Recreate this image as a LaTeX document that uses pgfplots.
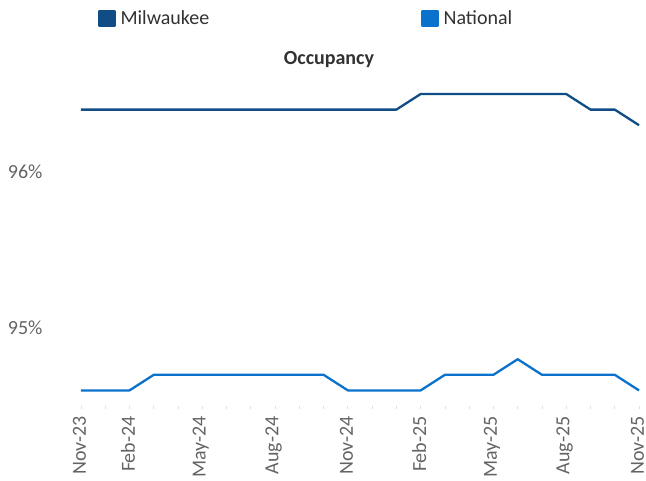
\documentclass[border=0pt]{standalone}
\usepackage{pgfplots}
\pgfplotsset{compat=1.18}
\usepackage{fontspec}
\setmainfont{Carlito}
\definecolor{milw}{RGB}{16,76,134}
\definecolor{natl}{RGB}{10,114,204}
\definecolor{ticktext}{RGB}{100,100,100}
\definecolor{darktext}{RGB}{50,50,50}
\begin{document}
\begin{tikzpicture}
\begin{axis}[
  scale only axis,
  width=558pt, height=327.6pt,
  xmin=0, xmax=23, ymin=94.5, ymax=96.6,
  axis line style={draw=none},
  xtick={0,...,23},
  xticklabels={Nov-23,,Feb-24,,,May-24,,,Aug-24,,,Nov-24,,,Feb-25,,,May-25,,,Aug-25,,,Nov-25},
  xtick pos=bottom, tick align=outside,
  major tick length=3pt,
  x tick style={draw=gray!25, line width=0.8pt},
  y tick style={draw=none},
  ytick={95,96}, yticklabels={95\%,96\%},
  ticklabel style={font=\fontsize{20}{24}\selectfont, text=ticktext},
  xticklabel style={rotate=90, anchor=east, inner sep=0pt, xshift=-7pt, yshift=1.5pt},
  yticklabel style={anchor=east, xshift=-32pt},
  title={\textbf{Occupancy}},
  title style={at={(0.4444,1.0226)}, anchor=base, yshift=0pt, font=\fontsize{20}{24}\selectfont, text=darktext},
  legend columns=2,
  legend style={draw=none, fill=none, at={(0.0305,1.214)}, anchor=north west, inner sep=0pt,
    font=\fontsize{20}{24}\selectfont, text=darktext,
    /tikz/every even column/.append style={column sep=210pt}},
  legend image code/.code={\fill[#1] (0pt,-7.5pt) rectangle (15pt,7.5pt); \path (18pt,0pt);},
  clip=false,
]
\addplot[milw, line width=2.3pt, line join=round] coordinates {
(0,96.4)(1,96.4)(2,96.4)(3,96.4)(4,96.4)(5,96.4)(6,96.4)(7,96.4)(8,96.4)(9,96.4)(10,96.4)(11,96.4)(12,96.4)(13,96.4)
(14,96.5)(15,96.5)(16,96.5)(17,96.5)(18,96.5)(19,96.5)(20,96.5)
(21,96.4)(22,96.4)(23,96.3)};
\addlegendentry{Milwaukee}
\addplot[natl, line width=2.3pt, line join=round] coordinates {
(0,94.6)(1,94.6)(2,94.6)
(3,94.7)(4,94.7)(5,94.7)(6,94.7)(7,94.7)(8,94.7)(9,94.7)(10,94.7)
(11,94.6)(12,94.6)(13,94.6)(14,94.6)
(15,94.7)(16,94.7)(17,94.7)(18,94.8)
(19,94.7)(20,94.7)(21,94.7)(22,94.7)(23,94.6)};
\addlegendentry{National}
\end{axis}
\pgfresetboundingbox
\path[use as bounding box] ([shift={(-81pt,-74pt)}]current axis.south west) rectangle ([shift={(7pt,78.4pt)}]current axis.north east);
\end{tikzpicture}
\end{document}
